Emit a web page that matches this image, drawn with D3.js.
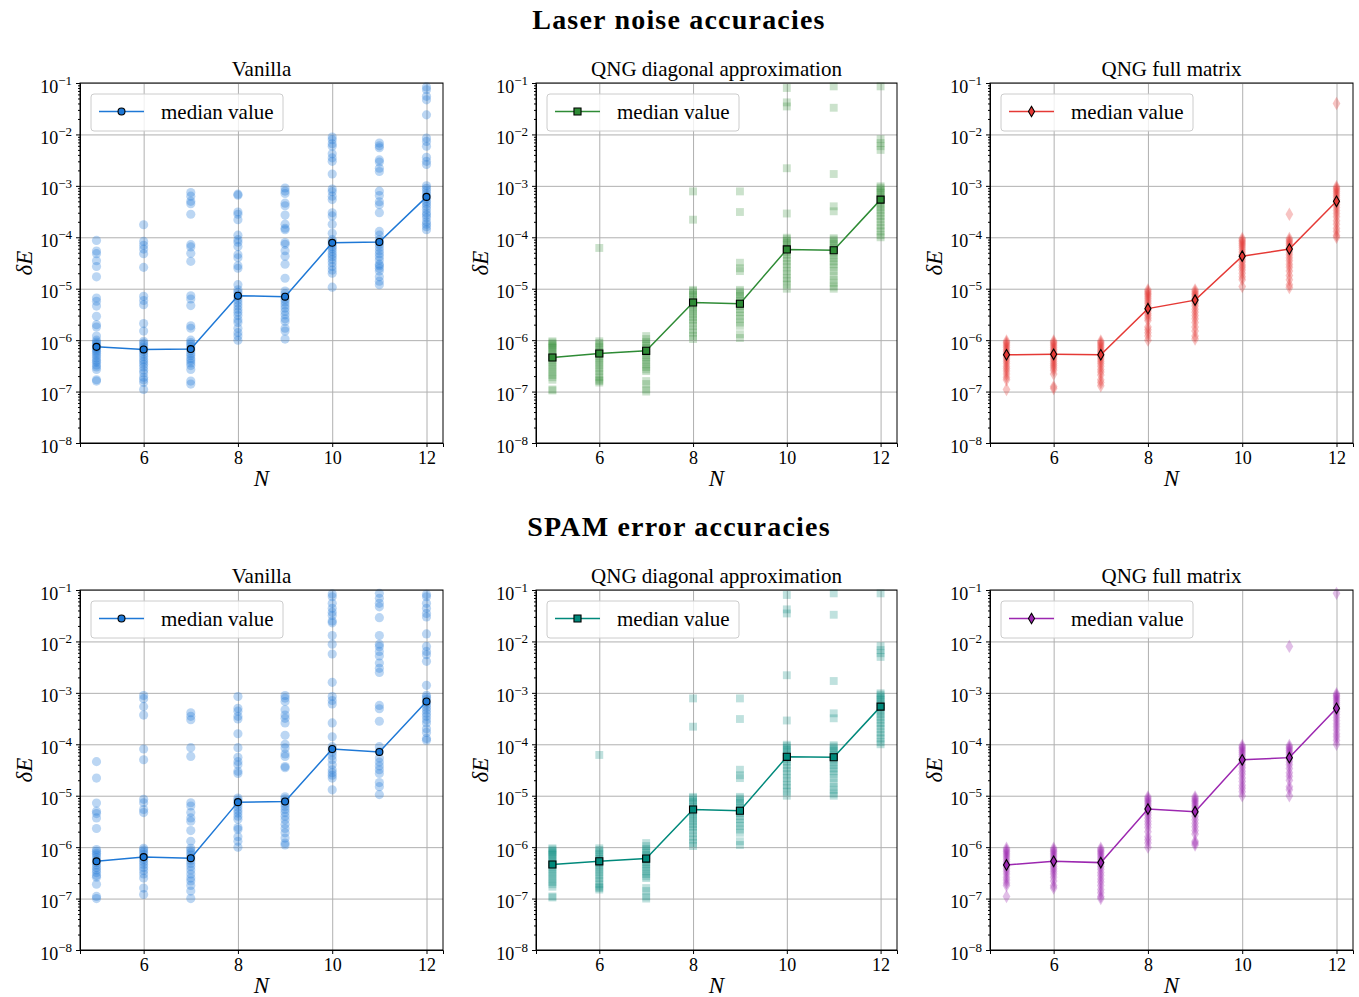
<!DOCTYPE html>
<html>
<head>
<meta charset="utf-8">
<script src="https://cdn.jsdelivr.net/npm/d3@7"></script>
<style>
  body { margin: 0; background: #fff; }
  text { font-family: "Liberation Serif", "DejaVu Serif", serif; fill: #000; }
</style>
</head>
<body>
<svg id="chart" width="1359" height="997"></svg>
<script>
// values, one inner array per N
const nValues = [5, 6, 7, 8, 9, 10, 11, 12];
const xTicks = [6, 8, 10, 12];
const yDecades = [1e-8, 1e-7, 1e-6, 1e-5, 1e-4, 1e-3, 1e-2, 1e-1];

const laserVanilla = [
  [8.7e-5, 5.4e-5, 4.8e-5, 3.5e-5, 2.7e-5, 1.7e-5, 6.6e-6, 5.7e-6, 4.6e-6, 2.9e-6, 2.0e-6, 1.8e-6, 1.2e-6, 1.0e-6, 9.2e-7, 8.5e-7, 8.0e-7, 7.4e-7, 7.0e-7, 6.5e-7, 6.0e-7, 5.5e-7, 5.0e-7, 4.5e-7, 4.0e-7, 3.7e-7, 3.3e-7, 3.0e-7, 2.7e-7, 1.7e-7, 1.6e-7],
  [1.75e-4, 8.3e-5, 7.0e-5, 5.9e-5, 4.8e-5, 2.6e-5, 7.1e-6, 5.9e-6, 4.9e-6, 2.1e-6, 1.5e-6, 9.5e-7, 8.8e-7, 8.0e-7, 7.2e-7, 6.5e-7, 6.0e-7, 5.4e-7, 4.8e-7, 4.2e-7, 3.8e-7, 3.4e-7, 3.0e-7, 2.6e-7, 2.3e-7, 1.9e-7, 1.7e-7, 1.5e-7, 1.1e-7],
  [7.4e-4, 6.3e-4, 5.0e-4, 4.5e-4, 2.8e-4, 7.2e-5, 6.5e-5, 4.9e-5, 3.4e-5, 7.3e-6, 6.3e-6, 4.7e-6, 1.9e-6, 1.7e-6, 1.0e-6, 9.0e-7, 8.3e-7, 7.5e-7, 6.8e-7, 6.2e-7, 5.5e-7, 5.0e-7, 4.4e-7, 4.0e-7, 3.6e-7, 3.2e-7, 2.7e-7, 1.6e-7, 1.4e-7],
  [6.9e-4, 6.6e-4, 3.1e-4, 2.8e-4, 2.2e-4, 1.1e-4, 9.0e-5, 8.0e-5, 6.6e-5, 4.6e-5, 4.0e-5, 2.8e-5, 2.5e-5, 1.2e-5, 9.5e-6, 8.5e-6, 7.5e-6, 6.8e-6, 6.0e-6, 5.3e-6, 4.6e-6, 4.0e-6, 3.5e-6, 3.0e-6, 2.5e-6, 2.2e-6, 1.7e-6, 1.4e-6, 1.2e-6, 1.0e-6],
  [9.1e-4, 7.9e-4, 7.1e-4, 4.6e-4, 4.1e-4, 2.7e-4, 1.8e-4, 1.5e-4, 1.4e-4, 7.9e-5, 7.3e-5, 5.5e-5, 4.3e-5, 3.0e-5, 1.6e-5, 9.0e-6, 8.0e-6, 7.0e-6, 6.2e-6, 5.5e-6, 4.8e-6, 4.2e-6, 3.6e-6, 3.1e-6, 2.6e-6, 2.3e-6, 1.7e-6, 1.5e-6, 1.05e-6],
  [8.9e-3, 7.9e-3, 6.6e-3, 5.9e-3, 4.2e-3, 3.5e-3, 3.0e-3, 1.7e-3, 8.7e-4, 7.7e-4, 6.3e-4, 5.4e-4, 3.0e-4, 2.6e-4, 1.8e-4, 1.2e-4, 9.0e-5, 8.2e-5, 7.4e-5, 6.6e-5, 6.0e-5, 5.3e-5, 4.7e-5, 4.2e-5, 3.7e-5, 3.2e-5, 2.7e-5, 2.3e-5, 2.0e-5, 1.07e-5],
  [6.8e-3, 6.0e-3, 5.5e-3, 3.2e-3, 2.9e-3, 2.2e-3, 1.9e-3, 7.9e-4, 6.5e-4, 4.9e-4, 4.3e-4, 3.0e-4, 1.3e-4, 1.1e-4, 9.0e-5, 8.0e-5, 7.2e-5, 6.3e-5, 5.5e-5, 4.8e-5, 4.2e-5, 3.6e-5, 3.0e-5, 2.8e-5, 2.5e-5, 2.2e-5, 1.7e-5, 1.4e-5, 1.2e-5],
  [8.4e-2, 7.4e-2, 5.5e-2, 4.7e-2, 2.4e-2, 8.5e-3, 7.3e-3, 5.9e-3, 3.6e-3, 3.0e-3, 2.6e-3, 1.0e-3, 9.0e-4, 8.0e-4, 7.0e-4, 6.3e-4, 5.7e-4, 5.0e-4, 4.5e-4, 4.0e-4, 3.5e-4, 3.0e-4, 2.7e-4, 2.4e-4, 2.0e-4, 1.8e-4, 1.6e-4, 1.4e-4]
];
const laserVanillaMedian = [7.4e-7, 6.6e-7, 6.7e-7, 7.3e-6, 7.0e-6, 7.8e-5, 8.1e-5, 6.1e-4];

const laserDiag = [
  [9.5e-7, 9.0e-7, 8.5e-7, 8.0e-7, 7.5e-7, 7.0e-7, 6.5e-7, 6.0e-7, 5.5e-7, 5.0e-7, 4.6e-7, 4.2e-7, 3.8e-7, 3.4e-7, 3.0e-7, 2.7e-7, 2.4e-7, 2.1e-7, 1.9e-7, 1.7e-7, 1.1e-7, 1.05e-7],
  [6.2e-5, 9.5e-7, 8.8e-7, 8.0e-7, 7.3e-7, 6.6e-7, 6.0e-7, 5.5e-7, 5.0e-7, 4.5e-7, 4.0e-7, 3.6e-7, 3.2e-7, 2.8e-7, 2.5e-7, 2.2e-7, 1.9e-7, 1.7e-7, 1.6e-7, 1.5e-7],
  [1.2e-6, 1.05e-6, 9.2e-7, 8.5e-7, 7.8e-7, 7.0e-7, 6.4e-7, 5.8e-7, 5.2e-7, 4.7e-7, 4.2e-7, 3.8e-7, 3.4e-7, 3.0e-7, 2.7e-7, 2.5e-7, 1.6e-7, 1.4e-7, 1.1e-7, 1.0e-7],
  [7.8e-4, 2.2e-4, 9.5e-6, 9.0e-6, 8.2e-6, 7.5e-6, 6.8e-6, 6.2e-6, 5.6e-6, 5.0e-6, 4.5e-6, 4.0e-6, 3.6e-6, 3.2e-6, 2.8e-6, 2.5e-6, 2.2e-6, 1.9e-6, 1.6e-6, 1.4e-6, 1.2e-6, 1.05e-6],
  [7.8e-4, 3.1e-4, 3.2e-5, 2.5e-5, 2.2e-5, 9.5e-6, 8.8e-6, 8.0e-6, 7.2e-6, 6.5e-6, 5.8e-6, 5.2e-6, 4.6e-6, 4.0e-6, 3.5e-6, 3.0e-6, 2.6e-6, 2.2e-6, 1.9e-6, 1.3e-6, 1.1e-6],
  [8.0e-2, 4.2e-2, 3.5e-2, 2.2e-3, 2.9e-4, 9.8e-5, 9.2e-5, 8.5e-5, 7.8e-5, 7.0e-5, 6.4e-5, 5.8e-5, 5.2e-5, 4.6e-5, 4.0e-5, 3.5e-5, 3.0e-5, 2.6e-5, 2.2e-5, 1.9e-5, 1.6e-5, 1.4e-5, 1.2e-5, 1.0e-5],
  [8.6e-2, 3.3e-2, 1.7e-3, 4.0e-4, 3.2e-4, 9.6e-5, 9.0e-5, 8.2e-5, 7.5e-5, 6.8e-5, 6.2e-5, 5.6e-5, 5.0e-5, 4.4e-5, 3.9e-5, 3.4e-5, 3.0e-5, 2.6e-5, 2.2e-5, 1.8e-5, 1.5e-5, 1.3e-5, 1.1e-5, 1.0e-5],
  [8.6e-2, 8.1e-3, 6.8e-3, 5.9e-3, 5.0e-3, 9.8e-4, 9.2e-4, 8.5e-4, 7.8e-4, 7.2e-4, 6.6e-4, 6.0e-4, 5.4e-4, 4.8e-4, 4.3e-4, 3.8e-4, 3.4e-4, 3.0e-4, 2.6e-4, 2.3e-4, 2.0e-4, 1.7e-4, 1.5e-4, 1.3e-4, 1.1e-4, 1.0e-4]
];
const laserDiagMedian = [4.6e-7, 5.5e-7, 6.2e-7, 5.4e-6, 5.1e-6, 5.8e-5, 5.6e-5, 5.4e-4];

const laserFull = [
  [9.6e-7, 9.0e-7, 8.4e-7, 7.8e-7, 7.2e-7, 6.6e-7, 6.1e-7, 5.6e-7, 5.1e-7, 4.7e-7, 4.3e-7, 3.9e-7, 3.5e-7, 3.1e-7, 2.8e-7, 2.5e-7, 2.2e-7, 1.9e-7, 1.7e-7, 1.1e-7],
  [9.6e-7, 9.0e-7, 8.4e-7, 7.8e-7, 7.2e-7, 6.6e-7, 6.1e-7, 5.6e-7, 5.1e-7, 4.7e-7, 4.3e-7, 3.9e-7, 3.5e-7, 3.2e-7, 2.9e-7, 2.6e-7, 2.2e-7, 1.25e-7, 1.15e-7],
  [9.6e-7, 9.0e-7, 8.4e-7, 7.8e-7, 7.2e-7, 6.6e-7, 6.1e-7, 5.6e-7, 5.1e-7, 4.7e-7, 4.3e-7, 3.9e-7, 3.5e-7, 3.1e-7, 2.7e-7, 2.4e-7, 2.1e-7, 1.7e-7, 1.5e-7, 1.3e-7],
  [9.5e-6, 8.8e-6, 8.2e-6, 7.6e-6, 7.0e-6, 6.4e-6, 5.8e-6, 5.2e-6, 4.6e-6, 4.1e-6, 3.7e-6, 3.3e-6, 3.0e-6, 2.7e-6, 2.4e-6, 1.8e-6, 1.6e-6, 1.4e-6, 1.2e-6, 1.0e-6],
  [9.5e-6, 8.8e-6, 8.2e-6, 7.6e-6, 7.0e-6, 6.4e-6, 5.8e-6, 5.2e-6, 4.6e-6, 4.0e-6, 3.5e-6, 3.0e-6, 2.6e-6, 2.2e-6, 1.8e-6, 1.5e-6, 1.2e-6, 1.05e-6],
  [9.5e-5, 8.8e-5, 8.2e-5, 7.6e-5, 7.0e-5, 6.4e-5, 5.8e-5, 5.2e-5, 4.7e-5, 4.2e-5, 3.7e-5, 3.3e-5, 2.9e-5, 2.6e-5, 2.3e-5, 2.0e-5, 1.7e-5, 1.5e-5, 1.1e-5],
  [2.8e-4, 9.5e-5, 8.8e-5, 8.2e-5, 7.6e-5, 7.0e-5, 6.4e-5, 5.8e-5, 5.2e-5, 4.6e-5, 4.0e-5, 3.5e-5, 3.0e-5, 2.6e-5, 2.2e-5, 1.8e-5, 1.5e-5, 1.2e-5, 1.05e-5],
  [4.0e-2, 9.6e-4, 9.0e-4, 8.4e-4, 7.8e-4, 7.2e-4, 6.6e-4, 6.0e-4, 5.4e-4, 4.8e-4, 4.3e-4, 3.8e-4, 3.3e-4, 2.9e-4, 2.5e-4, 2.1e-4, 1.8e-4, 1.5e-4, 1.3e-4, 1.1e-4, 1.0e-4]
];
const laserFullMedian = [5.2e-7, 5.3e-7, 5.2e-7, 4.1e-6, 6.0e-6, 4.3e-5, 5.9e-5, 5.0e-4];

const spamVanilla = [
  [4.6e-5, 2.2e-5, 7.2e-6, 5.0e-6, 4.5e-6, 3.7e-6, 2.3e-6, 9.0e-7, 8.3e-7, 7.6e-7, 7.0e-7, 6.3e-7, 5.6e-7, 5.0e-7, 4.5e-7, 4.0e-7, 3.6e-7, 3.2e-7, 2.8e-7, 2.6e-7, 1.9e-7, 1.1e-7, 1.0e-7],
  [8.9e-4, 7.7e-4, 5.4e-4, 3.7e-4, 8.1e-5, 5.0e-5, 8.5e-6, 7.3e-6, 5.4e-6, 4.7e-6, 9.5e-7, 8.8e-7, 8.0e-7, 7.2e-7, 6.4e-7, 5.8e-7, 5.2e-7, 4.6e-7, 4.0e-7, 3.5e-7, 3.0e-7, 2.5e-7, 1.6e-7, 1.2e-7],
  [4.1e-4, 3.5e-4, 3.0e-4, 8.6e-5, 5.8e-5, 7.3e-6, 6.3e-6, 4.7e-6, 3.7e-6, 3.2e-6, 2.1e-6, 1.3e-6, 9.5e-7, 8.6e-7, 7.8e-7, 7.0e-7, 6.2e-7, 5.5e-7, 4.8e-7, 4.2e-7, 3.6e-7, 3.0e-7, 2.5e-7, 2.2e-7, 1.8e-7, 1.4e-7, 1.0e-7],
  [8.5e-4, 5.0e-4, 4.4e-4, 3.5e-4, 3.1e-4, 1.6e-4, 8.6e-5, 5.6e-5, 4.6e-5, 4.0e-5, 3.0e-5, 2.7e-5, 9.0e-6, 8.2e-6, 7.5e-6, 6.8e-6, 6.0e-6, 5.2e-6, 4.6e-6, 4.0e-6, 3.5e-6, 2.4e-6, 2.2e-6, 1.6e-6, 1.3e-6, 1.0e-6],
  [8.9e-4, 7.9e-4, 6.8e-4, 4.7e-4, 3.7e-4, 3.2e-4, 2.6e-4, 1.5e-4, 1.0e-4, 8.5e-5, 6.5e-5, 5.8e-5, 3.7e-5, 3.5e-5, 9.5e-6, 8.7e-6, 7.8e-6, 7.0e-6, 6.2e-6, 5.4e-6, 4.7e-6, 4.0e-6, 3.4e-6, 2.8e-6, 2.3e-6, 1.9e-6, 1.5e-6, 1.2e-6, 1.1e-6],
  [8.4e-2, 7.4e-2, 5.5e-2, 4.4e-2, 3.7e-2, 3.2e-2, 2.5e-2, 2.3e-2, 1.3e-2, 8.8e-3, 5.7e-3, 1.6e-3, 8.5e-4, 7.1e-4, 6.1e-4, 2.6e-4, 1.4e-4, 9.0e-5, 8.0e-5, 7.0e-5, 6.0e-5, 5.0e-5, 4.0e-5, 3.2e-5, 2.8e-5, 2.5e-5, 2.2e-5, 1.3e-5],
  [8.6e-2, 6.9e-2, 5.5e-2, 4.7e-2, 2.9e-2, 1.3e-2, 8.8e-3, 7.9e-3, 6.4e-3, 5.2e-3, 3.8e-3, 3.0e-3, 2.5e-3, 5.7e-4, 4.9e-4, 2.8e-4, 9.0e-5, 7.2e-5, 5.4e-5, 4.5e-5, 3.8e-5, 3.2e-5, 2.7e-5, 1.8e-5, 1.5e-5, 1.05e-5],
  [8.2e-2, 7.4e-2, 5.5e-2, 4.4e-2, 3.5e-2, 3.0e-2, 1.4e-2, 8.0e-3, 6.4e-3, 5.5e-3, 4.1e-3, 1.4e-3, 9.0e-4, 8.2e-4, 7.4e-4, 6.6e-4, 5.9e-4, 5.2e-4, 4.6e-4, 4.0e-4, 3.5e-4, 3.0e-4, 2.6e-4, 2.0e-4, 1.7e-4, 1.3e-4, 1.2e-4]
];
const spamVanillaMedian = [5.3e-7, 6.4e-7, 6.1e-7, 7.5e-6, 7.7e-6, 8.1e-5, 7.1e-5, 6.8e-4];

const spamDiag = [
  [9.5e-7, 9.0e-7, 8.5e-7, 8.0e-7, 7.5e-7, 7.0e-7, 6.5e-7, 6.0e-7, 5.5e-7, 5.0e-7, 4.6e-7, 4.2e-7, 3.8e-7, 3.4e-7, 3.0e-7, 2.7e-7, 2.4e-7, 2.1e-7, 1.9e-7, 1.7e-7, 1.1e-7, 1.05e-7],
  [6.2e-5, 9.5e-7, 8.8e-7, 8.0e-7, 7.3e-7, 6.6e-7, 6.0e-7, 5.5e-7, 5.0e-7, 4.5e-7, 4.0e-7, 3.6e-7, 3.2e-7, 2.8e-7, 2.5e-7, 2.2e-7, 1.9e-7, 1.7e-7, 1.6e-7, 1.5e-7],
  [1.2e-6, 1.05e-6, 9.2e-7, 8.5e-7, 7.8e-7, 7.0e-7, 6.4e-7, 5.8e-7, 5.2e-7, 4.7e-7, 4.2e-7, 3.8e-7, 3.4e-7, 3.0e-7, 2.7e-7, 2.5e-7, 1.6e-7, 1.4e-7, 1.1e-7, 1.0e-7],
  [7.8e-4, 2.2e-4, 9.5e-6, 9.0e-6, 8.2e-6, 7.5e-6, 6.8e-6, 6.2e-6, 5.6e-6, 5.0e-6, 4.5e-6, 4.0e-6, 3.6e-6, 3.2e-6, 2.8e-6, 2.5e-6, 2.2e-6, 1.9e-6, 1.6e-6, 1.4e-6, 1.2e-6, 1.05e-6],
  [7.8e-4, 3.1e-4, 3.2e-5, 2.5e-5, 2.2e-5, 9.5e-6, 8.8e-6, 8.0e-6, 7.2e-6, 6.5e-6, 5.8e-6, 5.2e-6, 4.6e-6, 4.0e-6, 3.5e-6, 3.0e-6, 2.6e-6, 2.2e-6, 1.9e-6, 1.3e-6, 1.1e-6],
  [8.0e-2, 4.2e-2, 3.5e-2, 2.2e-3, 2.9e-4, 9.8e-5, 9.2e-5, 8.5e-5, 7.8e-5, 7.0e-5, 6.4e-5, 5.8e-5, 5.2e-5, 4.6e-5, 4.0e-5, 3.5e-5, 3.0e-5, 2.6e-5, 2.2e-5, 1.9e-5, 1.6e-5, 1.4e-5, 1.2e-5, 1.0e-5],
  [8.6e-2, 3.3e-2, 1.7e-3, 4.0e-4, 3.2e-4, 9.6e-5, 9.0e-5, 8.2e-5, 7.5e-5, 6.8e-5, 6.2e-5, 5.6e-5, 5.0e-5, 4.4e-5, 3.9e-5, 3.4e-5, 3.0e-5, 2.6e-5, 2.2e-5, 1.8e-5, 1.5e-5, 1.3e-5, 1.1e-5, 1.0e-5],
  [8.6e-2, 8.1e-3, 6.8e-3, 5.9e-3, 5.0e-3, 9.8e-4, 9.2e-4, 8.5e-4, 7.8e-4, 7.2e-4, 6.6e-4, 6.0e-4, 5.4e-4, 4.8e-4, 4.3e-4, 3.8e-4, 3.4e-4, 3.0e-4, 2.6e-4, 2.3e-4, 2.0e-4, 1.7e-4, 1.5e-4, 1.3e-4, 1.1e-4, 1.0e-4]
];
const spamDiagMedian = [4.6e-7, 5.3e-7, 6.0e-7, 5.4e-6, 5.1e-6, 5.7e-5, 5.6e-5, 5.4e-4];

const spamFull = [
  [9.5e-7, 8.8e-7, 8.2e-7, 7.6e-7, 7.0e-7, 6.4e-7, 5.8e-7, 5.2e-7, 4.7e-7, 4.2e-7, 3.8e-7, 3.4e-7, 3.0e-7, 2.6e-7, 2.3e-7, 2.0e-7, 1.8e-7, 1.1e-7],
  [9.5e-7, 8.8e-7, 8.2e-7, 7.6e-7, 7.0e-7, 6.4e-7, 5.8e-7, 5.2e-7, 4.7e-7, 4.2e-7, 3.8e-7, 3.4e-7, 3.0e-7, 2.6e-7, 2.2e-7, 1.8e-7, 1.6e-7],
  [9.5e-7, 8.8e-7, 8.2e-7, 7.6e-7, 7.0e-7, 6.4e-7, 5.8e-7, 5.2e-7, 4.7e-7, 4.2e-7, 3.7e-7, 3.2e-7, 2.8e-7, 2.4e-7, 2.1e-7, 1.8e-7, 1.5e-7, 1.3e-7, 1.1e-7, 1.0e-7],
  [9.5e-6, 8.8e-6, 8.2e-6, 7.6e-6, 7.0e-6, 6.4e-6, 5.8e-6, 5.2e-6, 4.7e-6, 4.2e-6, 3.7e-6, 3.2e-6, 2.8e-6, 2.4e-6, 2.0e-6, 1.6e-6, 1.4e-6, 1.2e-6, 1.0e-6],
  [9.5e-6, 8.8e-6, 8.2e-6, 7.6e-6, 7.0e-6, 6.4e-6, 5.8e-6, 5.2e-6, 4.6e-6, 4.0e-6, 3.4e-6, 2.9e-6, 2.5e-6, 2.1e-6, 1.8e-6, 1.3e-6, 1.2e-6, 1.1e-6],
  [9.5e-5, 8.8e-5, 8.2e-5, 7.6e-5, 7.0e-5, 6.4e-5, 5.8e-5, 5.2e-5, 4.6e-5, 4.0e-5, 3.5e-5, 3.0e-5, 2.6e-5, 2.2e-5, 1.9e-5, 1.6e-5, 1.4e-5, 1.2e-5, 1.0e-5],
  [8.0e-3, 9.5e-5, 8.8e-5, 8.2e-5, 7.6e-5, 7.0e-5, 6.4e-5, 5.8e-5, 5.2e-5, 4.6e-5, 4.0e-5, 3.4e-5, 2.8e-5, 2.4e-5, 2.0e-5, 1.5e-5, 1.3e-5, 1.0e-5],
  [8.6e-2, 9.6e-4, 9.0e-4, 8.4e-4, 7.8e-4, 7.2e-4, 6.6e-4, 6.0e-4, 5.4e-4, 4.8e-4, 4.3e-4, 3.8e-4, 3.3e-4, 2.9e-4, 2.5e-4, 2.2e-4, 1.9e-4, 1.6e-4, 1.4e-4, 1.2e-4, 1.0e-4]
];
const spamFullMedian = [4.5e-7, 5.3e-7, 5.0e-7, 5.5e-6, 4.9e-6, 5.0e-5, 5.5e-5, 5.0e-4];

const rowTitles = ['Laser noise accuracies', 'SPAM error accuracies'];
const colTitles = ['Vanilla', 'QNG diagonal approximation', 'QNG full matrix'];

const panels = [
  { row: 0, col: 0, data: laserVanilla, median: laserVanillaMedian, color: '#1e78d6', shape: 'circle' },
  { row: 0, col: 1, data: laserDiag, median: laserDiagMedian, color: '#2e8b35', shape: 'square' },
  { row: 0, col: 2, data: laserFull, median: laserFullMedian, color: '#e53935', shape: 'diamond' },
  { row: 1, col: 0, data: spamVanilla, median: spamVanillaMedian, color: '#1e78d6', shape: 'circle' },
  { row: 1, col: 1, data: spamDiag, median: spamDiagMedian, color: '#00897b', shape: 'square' },
  { row: 1, col: 2, data: spamFull, median: spamFullMedian, color: '#9c27b0', shape: 'diamond' }
];

const colLeft = [80, 536, 990];
const colWidth = [363, 361, 363];
const rowTop = [83, 590];
const plotHeight = 360;

const shapes = {
  circle:  { type: d3.symbolCircle,  size: 66, medSize: 38, opacity: 0.3 },
  square:  { type: d3.symbolSquare,  size: 62, medSize: 50, opacity: 0.25 },
  diamond: { type: d3.symbolDiamond, size: 52, medSize: 32, opacity: 0.3 }
};

const svg = d3.select('#chart');

rowTitles.forEach((t, i) => {
  svg.append('text')
    .attr('x', 679)
    .attr('y', i === 0 ? 29 : 536)
    .attr('text-anchor', 'middle')
    .attr('font-size', '28px')
    .attr('font-weight', 'bold')
    .attr('letter-spacing', '1.2px')
    .text(t);
});

function drawPanel(p) {
  const w = colWidth[p.col];
  const h = plotHeight;
  const g = svg.append('g')
    .attr('transform', `translate(${colLeft[p.col]}, ${rowTop[p.row]})`);

  const x = d3.scaleLinear().domain([4.65, 12.35]).range([0, w]);
  const y = d3.scaleLog().domain([1e-8, 1e-1]).range([h, 0]);
  const sh = shapes[p.shape];

  // grid
  g.append('g')
    .attr('class', 'grid')
    .attr('transform', `translate(0, ${h})`)
    .call(d3.axisBottom(x).tickValues(xTicks).tickSize(-h).tickFormat(''));
  g.append('g')
    .attr('class', 'grid')
    .call(d3.axisLeft(y).tickValues(yDecades).tickSize(-w).tickFormat(''));
  g.selectAll('.grid .domain').remove();
  g.selectAll('.grid line').attr('stroke', '#b0b0b0').attr('stroke-width', 1);

  // scatter of all runs
  const pts = [];
  nValues.forEach((n, i) => p.data[i].forEach(v => pts.push({ n, v })));
  const sym = d3.symbol().type(sh.type).size(sh.size);
  g.selectAll('.pt')
    .data(pts)
    .enter().append('path')
      .attr('class', 'pt')
      .attr('d', sym)
      .attr('transform', d => `translate(${x(d.n)}, ${y(d.v)})`)
      .attr('fill', p.color)
      .attr('fill-opacity', sh.opacity);

  // median line
  const med = nValues.map((n, i) => ({ n, v: p.median[i] }));
  g.append('path')
    .datum(med)
    .attr('fill', 'none')
    .attr('stroke', p.color)
    .attr('stroke-width', 1.5)
    .attr('d', d3.line().x(d => x(d.n)).y(d => y(d.v)));
  const medSym = d3.symbol().type(sh.type).size(sh.medSize);
  g.selectAll('.med')
    .data(med)
    .enter().append('path')
      .attr('class', 'med')
      .attr('d', medSym)
      .attr('transform', d => `translate(${x(d.n)}, ${y(d.v)})`)
      .attr('fill', p.color)
      .attr('stroke', '#000')
      .attr('stroke-width', 1.1);

  // axes
  const xAxis = g.append('g')
    .attr('transform', `translate(0, ${h})`)
    .call(d3.axisBottom(x).tickValues(xTicks).tickSize(4).tickPadding(4));
  xAxis.attr('font-family', null);
  xAxis.selectAll('text').attr('font-size', '18px');

  const minor = [];
  yDecades.slice(0, -1).forEach(d => { for (let k = 2; k < 10; k++) minor.push(d * k); });
  g.append('g')
    .call(d3.axisLeft(y).tickValues(minor).tickSize(2).tickFormat(''))
    .select('.domain').remove();

  const yAxis = g.append('g')
    .call(d3.axisLeft(y).tickValues(yDecades).tickSize(4).tickPadding(4));
  yAxis.attr('font-family', null);
  yAxis.selectAll('.tick text')
    .attr('font-size', '18px')
    .attr('dy', '0.5em')
    .each(function (d) {
      const t = d3.select(this).text(null);
      t.append('tspan').text('10');
      t.append('tspan')
        .attr('dy', '-0.6em')
        .attr('font-size', '13px')
        .text('\u2212' + Math.round(-Math.log10(d)));
    });

  g.append('rect')
    .attr('width', w).attr('height', h)
    .attr('fill', 'none').attr('stroke', '#000').attr('stroke-width', 1);

  // labels
  g.append('text')
    .attr('x', w / 2).attr('y', -7)
    .attr('text-anchor', 'middle')
    .attr('font-size', '21px')
    .text(colTitles[p.col]);
  g.append('text')
    .attr('x', w / 2).attr('y', h + 43)
    .attr('text-anchor', 'middle')
    .attr('font-size', '23px')
    .attr('font-style', 'italic')
    .text('N');
  g.append('text')
    .attr('transform', `translate(-48, ${h / 2}) rotate(-90)`)
    .attr('text-anchor', 'middle')
    .attr('font-size', '23px')
    .attr('font-style', 'italic')
    .text('\u03B4E');

  // legend
  const lg = g.append('g').attr('transform', 'translate(11, 11)');
  lg.append('rect')
    .attr('width', 192).attr('height', 37).attr('rx', 3)
    .attr('fill', '#fff').attr('fill-opacity', 0.8)
    .attr('stroke', '#cccccc').attr('stroke-width', 1);
  lg.append('line')
    .attr('x1', 8).attr('x2', 53).attr('y1', 17.5).attr('y2', 17.5)
    .attr('stroke', p.color).attr('stroke-width', 1.5);
  lg.append('path')
    .attr('d', medSym)
    .attr('transform', 'translate(30.5, 17.5)')
    .attr('fill', p.color)
    .attr('stroke', '#000')
    .attr('stroke-width', 1.1);
  lg.append('text')
    .attr('x', 70).attr('y', 25)
    .attr('font-size', '21px')
    .text('median value');
}

panels.forEach(drawPanel);
</script>
</body>
</html>
